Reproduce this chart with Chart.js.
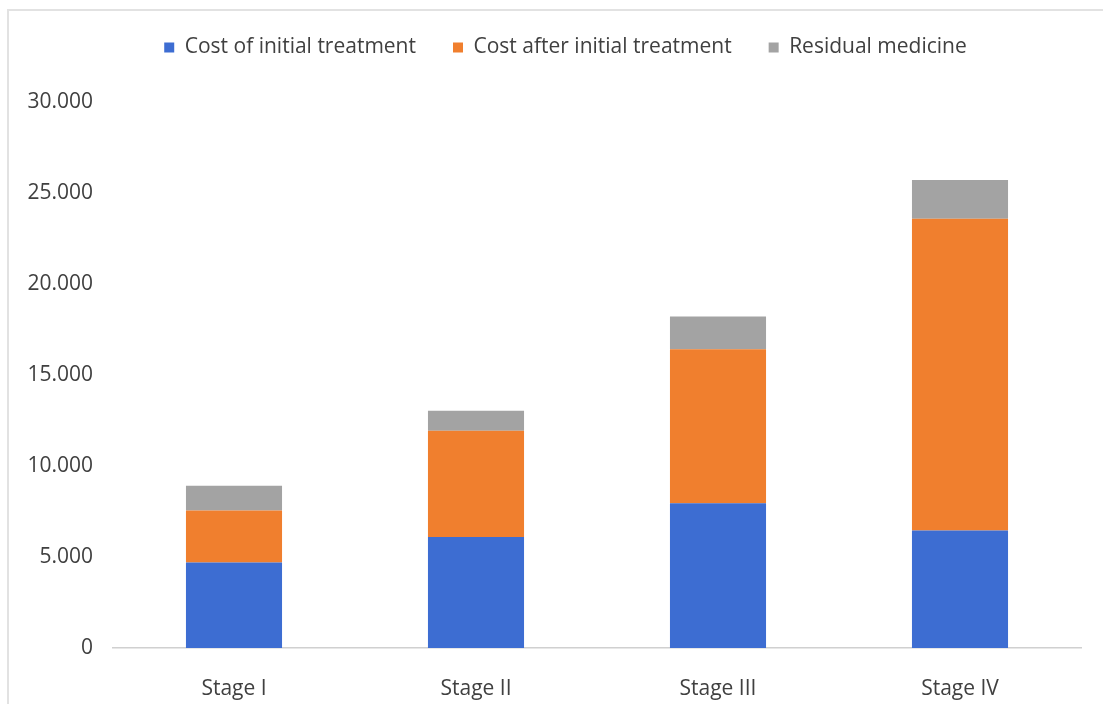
<!DOCTYPE html>
<html>
<head>
<meta charset="utf-8">
<script src="https://cdn.jsdelivr.net/npm/chart.js@4/dist/chart.umd.min.js"></script>
<style>
  html, body { margin: 0; padding: 0; background: #fff; }
  #wrap { position: relative; width: 1103px; height: 704px; overflow: hidden; }
  #frame { position: absolute; left: 7px; top: 9px; width: 1200px; height: 800px;
           border-top: 2px solid #e2e2e2; border-left: 2px solid #e2e2e2; }
  canvas { position: absolute; left: 0; top: 0; }
</style>
</head>
<body>
<div id="wrap">
  <div id="frame"></div>
  <canvas id="c" width="1103" height="704"></canvas>
</div>
<script>
// Treatment cost by cancer stage (stacked)
const stages = ['Stage I', 'Stage II', 'Stage III', 'Stage IV'];
const initialCost = [4700, 6100, 7950, 6450];
const afterInitialCost = [2850, 5830, 8470, 17130];
const residualMedicine = [1370, 1100, 1800, 2130];
const yTicks = [0, 5000, 10000, 15000, 20000, 25000, 30000];

const fontFamily = "'Open Sans', 'Noto Sans', sans-serif";
const legendBlockHeight = 102;
const legendShift = 25;

function fmt(v) {
  return String(v).replace(/\B(?=(\d{3})+(?!\d))/g, '.');
}

// Fixes the legend block height and nudges the legend row right
const legendSpacer = {
  id: 'legendSpacer',
  beforeInit(chart) {
    const origFit = chart.legend.fit;
    chart.legend.fit = function () {
      origFit.call(this);
      this.height = legendBlockHeight;
    };
  },
  afterLayout(chart) {
    chart.legend.left += legendShift;
    chart.legend.right += legendShift;
  }
};

new Chart(document.getElementById('c'), {
  type: 'bar',
  data: {
    labels: stages,
    datasets: [
      { label: 'Cost of initial treatment', data: initialCost, backgroundColor: '#3d6dd2' },
      { label: 'Cost after initial treatment', data: afterInitialCost, backgroundColor: '#f07f2e' },
      { label: 'Residual medicine', data: residualMedicine, backgroundColor: '#a3a3a3' }
    ]
  },
  plugins: [legendSpacer],
  options: {
    responsive: false,
    animation: false,
    layout: { padding: { left: 0, right: 22, top: 0, bottom: 0 } },
    datasets: { bar: { categoryPercentage: 1.0, barPercentage: 0.397 } },
    plugins: {
      tooltip: { enabled: false },
      legend: {
        position: 'top',
        labels: {
          boxWidth: 10, boxHeight: 10, padding: 37,
          color: '#404040',
          font: { family: fontFamily, size: 21 }
        }
      }
    },
    scales: {
      x: {
        stacked: true,
        grid: { display: false },
        border: { display: true, color: '#d0d0d0', width: 1.5 },
        afterFit: s => { s.height = 56; },
        ticks: { color: '#404040', padding: 20, font: { family: fontFamily, size: 21 } }
      },
      y: {
        stacked: true,
        min: 0, max: 30000,
        afterBuildTicks: s => { s.ticks = yTicks.map(v => ({ value: v })); },
        afterFit: s => { s.width = 113; },
        grid: { display: false },
        border: { display: false },
        ticks: {
          color: '#404040', padding: 12,
          font: { family: fontFamily, size: 21 },
          callback: v => fmt(v)
        }
      }
    }
  }
});
</script>
</body>
</html>
